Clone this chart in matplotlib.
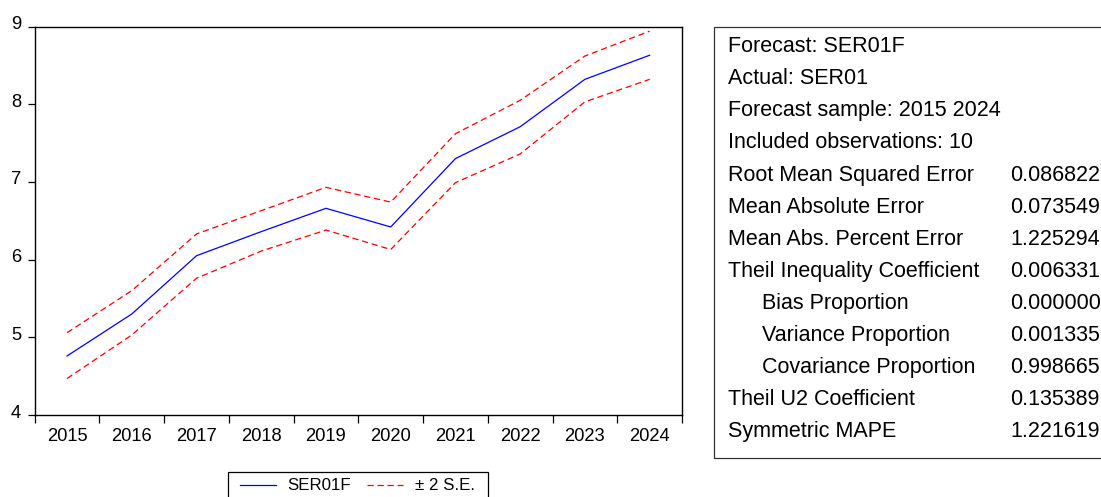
import matplotlib
matplotlib.use("Agg")
import matplotlib.pyplot as plt
import matplotlib.transforms as mtransforms
from matplotlib.lines import Line2D
from matplotlib.patches import Rectangle
import numpy as np

plt.rcParams['font.family'] = ['Liberation Sans', 'DejaVu Sans']

# forecast data
years = [2015, 2016, 2017, 2018, 2019, 2020, 2021, 2022, 2023, 2024]
forecast = [4.76, 5.30, 6.05, 6.36, 6.66, 6.42, 7.30, 7.71, 8.32, 8.63]
upper = [5.06, 5.60, 6.33, 6.63, 6.93, 6.74, 7.62, 8.05, 8.62, 8.94]
lower = [4.47, 5.03, 5.76, 6.11, 6.38, 6.13, 6.99, 7.36, 8.03, 8.32]

# forecast evaluation table
stat_labels = ["Forecast: SER01F", "Actual: SER01", "Forecast sample: 2015 2024",
               "Included observations: 10", "Root Mean Squared Error",
               "Mean Absolute Error", "Mean Abs. Percent Error",
               "Theil Inequality Coefficient", "Bias Proportion",
               "Variance Proportion", "Covariance Proportion",
               "Theil U2 Coefficient", "Symmetric MAPE"]
stat_values = ["", "", "", "", "0.086822", "0.073549", "1.225294", "0.006331",
               "0.000000", "0.001335", "0.998665", "0.135389", "1.221619"]
indented = [8, 9, 10]

W, H = 1101, 497
fig = plt.figure(figsize=(W / 100, H / 100), dpi=100)
ax = fig.add_axes([34.7 / W, 1 - 415 / H, (682 - 34.7) / W, (415 - 26.5) / H])

dash = (0, (5, 3))
x = np.arange(len(years))
ax.plot(x, forecast, color='blue', lw=0.9)
ax.plot(x, upper, color='red', lw=0.9, linestyle=dash)
ax.plot(x, lower, color='red', lw=0.9, linestyle=dash)

ax.set_xlim(-0.5, len(years) - 0.5)
ax.set_ylim(4, 9)
ax.set_yticks([4, 5, 6, 7, 8, 9])
ax.set_xticks(np.arange(-0.5, len(years)), labels=[])
ax.set_xticks(x, labels=[str(y) for y in years], minor=True)
ax.tick_params(axis='x', which='major', length=5.5, width=0.9, direction='out')
ax.tick_params(axis='x', which='minor', length=0, pad=9.3, labelsize=13.2)
ax.tick_params(axis='y', length=5, width=0.9, pad=4.8, labelsize=13.2)
for sp in ax.spines.values():
    sp.set_linewidth(1.0)
    sp.set_color('black')

# y labels sit a little above their ticks
shift = mtransforms.ScaledTranslation(0, 0.04, fig.dpi_scale_trans)
for lab in ax.get_yticklabels():
    lab.set_transform(lab.get_transform() + shift)

# legend, drawn by hand in pixel positions
px = lambda X, Y: (X / W, 1 - Y / H)
fig.patches.append(Rectangle(px(228, 510), 260 / W, 38 / H,
                             transform=fig.transFigure, fill=False,
                             edgecolor='black', lw=0.9))
ly = 1 - 485 / H
fig.add_artist(Line2D([240 / W, 276 / W], [ly, ly], color='blue', lw=0.9))
fig.add_artist(Line2D([367 / W, 403 / W], [ly, ly], color='red', lw=0.9,
                      linestyle=dash))
fig.text(287 / W, ly, "SER01F", fontsize=12.2, va='center', ha='left')
fig.text(415 / W, ly, "\u00b1 2 S.E.", fontsize=12.2, va='center', ha='left')

# stats table box
fig.patches.append(Rectangle(px(714.3, 458), 0.5, (458 - 26.7) / H,
                             transform=fig.transFigure, fill=False,
                             edgecolor='#333333', lw=0.9))
for i, (lab, val) in enumerate(zip(stat_labels, stat_values)):
    yy = 1 - (46.7 + 32.08 * i) / H
    xl = 762.3 if i in indented else 728.3
    fig.text(xl / W, yy, lab, fontsize=15.5, va='center', ha='left')
    if val:
        fig.text(1010 / W, yy, val, fontsize=15.5, va='center', ha='left')

fig.savefig("out.png", dpi=100)
